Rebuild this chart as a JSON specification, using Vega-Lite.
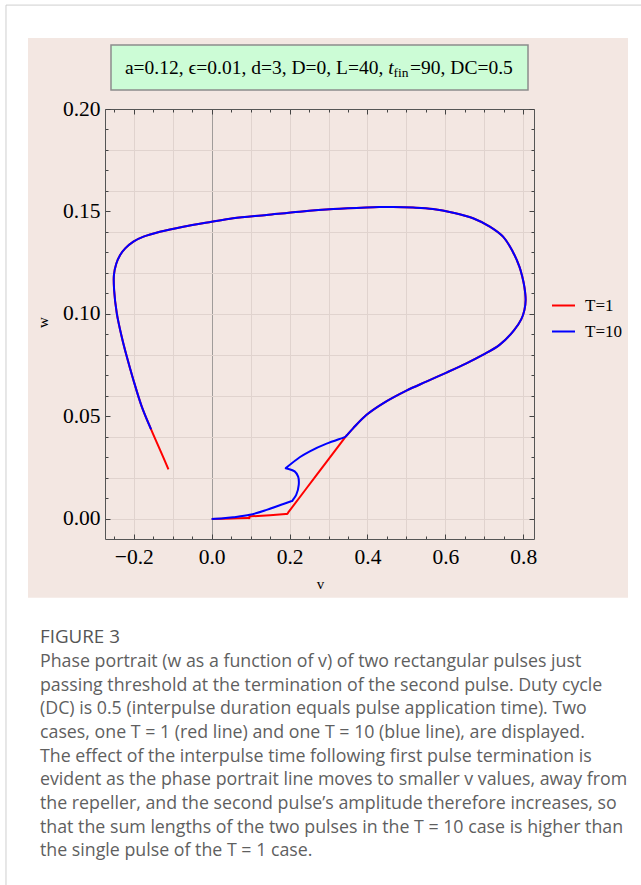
{
  "$schema": "https://vega.github.io/schema/vega-lite/v6.json",
  "width": 429,
  "height": 430,
  "autosize": {"type": "none"},
  "padding": {"left": 105, "top": 109, "right": 107, "bottom": 346},
  "background": "#f3e7e2",
  "config": {"view": {"stroke": null}},
  "datasets": {
    "curves": [
      {"T": "T=1", "i": 0, "v": 0, "w": 0},
      {"T": "T=1", "i": 1, "v": 0.05, "w": 0.0002},
      {"T": "T=1", "i": 2, "v": 0.094, "w": 0.0004},
      {"T": "T=1", "i": 3, "v": 0.097, "w": 0.0004},
      {"T": "T=1", "i": 4, "v": 0.097, "w": 0.0013},
      {"T": "T=1", "i": 5, "v": 0.1, "w": 0.0013},
      {"T": "T=1", "i": 6, "v": 0.19, "w": 0.0024},
      {"T": "T=1", "i": 7, "v": 0.194, "w": 0.0025},
      {"T": "T=1", "i": 8, "v": 0.1975, "w": 0.0034},
      {"T": "T=1", "i": 9, "v": 0.27, "w": 0.0216},
      {"T": "T=1", "i": 10, "v": 0.3401, "w": 0.0392},
      {"T": "T=1", "i": 11, "v": 0.3436, "w": 0.0401},
      {"T": "T=1", "i": 12, "v": 0.347, "w": 0.0408},
      {"T": "T=1", "i": 13, "v": 0.363, "w": 0.0442},
      {"T": "T=1", "i": 14, "v": 0.397, "w": 0.0507},
      {"T": "T=1", "i": 15, "v": 0.44, "w": 0.0564},
      {"T": "T=1", "i": 16, "v": 0.5, "w": 0.0626},
      {"T": "T=1", "i": 17, "v": 0.551, "w": 0.067},
      {"T": "T=1", "i": 18, "v": 0.603, "w": 0.0714},
      {"T": "T=1", "i": 19, "v": 0.654, "w": 0.0759},
      {"T": "T=1", "i": 20, "v": 0.696, "w": 0.08},
      {"T": "T=1", "i": 21, "v": 0.739, "w": 0.0849},
      {"T": "T=1", "i": 22, "v": 0.776, "w": 0.092},
      {"T": "T=1", "i": 23, "v": 0.795, "w": 0.0975},
      {"T": "T=1", "i": 24, "v": 0.803, "w": 0.102},
      {"T": "T=1", "i": 25, "v": 0.806, "w": 0.1068},
      {"T": "T=1", "i": 26, "v": 0.803, "w": 0.113},
      {"T": "T=1", "i": 27, "v": 0.797, "w": 0.1185},
      {"T": "T=1", "i": 28, "v": 0.79, "w": 0.1231},
      {"T": "T=1", "i": 29, "v": 0.773, "w": 0.1304},
      {"T": "T=1", "i": 30, "v": 0.748, "w": 0.1377},
      {"T": "T=1", "i": 31, "v": 0.714, "w": 0.1426},
      {"T": "T=1", "i": 32, "v": 0.671, "w": 0.1467},
      {"T": "T=1", "i": 33, "v": 0.62, "w": 0.1494},
      {"T": "T=1", "i": 34, "v": 0.568, "w": 0.1512},
      {"T": "T=1", "i": 35, "v": 0.517, "w": 0.1519},
      {"T": "T=1", "i": 36, "v": 0.466, "w": 0.1522},
      {"T": "T=1", "i": 37, "v": 0.43, "w": 0.1522},
      {"T": "T=1", "i": 38, "v": 0.397, "w": 0.152},
      {"T": "T=1", "i": 39, "v": 0.312, "w": 0.1512},
      {"T": "T=1", "i": 40, "v": 0.226, "w": 0.1499},
      {"T": "T=1", "i": 41, "v": 0.141, "w": 0.1483},
      {"T": "T=1", "i": 42, "v": 0.055, "w": 0.1467},
      {"T": "T=1", "i": 43, "v": 0, "w": 0.145},
      {"T": "T=1", "i": 44, "v": -0.073, "w": 0.1426},
      {"T": "T=1", "i": 45, "v": -0.133, "w": 0.1401},
      {"T": "T=1", "i": 46, "v": -0.175, "w": 0.1377},
      {"T": "T=1", "i": 47, "v": -0.201, "w": 0.1353},
      {"T": "T=1", "i": 48, "v": -0.222, "w": 0.132},
      {"T": "T=1", "i": 49, "v": -0.235, "w": 0.1288},
      {"T": "T=1", "i": 50, "v": -0.245, "w": 0.1245},
      {"T": "T=1", "i": 51, "v": -0.251, "w": 0.119},
      {"T": "T=1", "i": 52, "v": -0.2505, "w": 0.1117},
      {"T": "T=1", "i": 53, "v": -0.2436, "w": 0.1003},
      {"T": "T=1", "i": 54, "v": -0.231, "w": 0.0889},
      {"T": "T=1", "i": 55, "v": -0.218, "w": 0.0792},
      {"T": "T=1", "i": 56, "v": -0.201, "w": 0.0678},
      {"T": "T=1", "i": 57, "v": -0.1795, "w": 0.0548},
      {"T": "T=1", "i": 58, "v": -0.1556, "w": 0.0437},
      {"T": "T=1", "i": 59, "v": -0.1326, "w": 0.0337},
      {"T": "T=1", "i": 60, "v": -0.111, "w": 0.0242},
      {"T": "T=10", "i": 0, "v": 0, "w": 0},
      {"T": "T=10", "i": 1, "v": 0.03, "w": 0.0003},
      {"T": "T=10", "i": 2, "v": 0.055, "w": 0.0008},
      {"T": "T=10", "i": 3, "v": 0.098, "w": 0.002},
      {"T": "T=10", "i": 4, "v": 0.141, "w": 0.0044},
      {"T": "T=10", "i": 5, "v": 0.184, "w": 0.0073},
      {"T": "T=10", "i": 6, "v": 0.204, "w": 0.0086},
      {"T": "T=10", "i": 7, "v": 0.207, "w": 0.0088},
      {"T": "T=10", "i": 8, "v": 0.2085, "w": 0.0093},
      {"T": "T=10", "i": 9, "v": 0.217, "w": 0.0117},
      {"T": "T=10", "i": 10, "v": 0.2235, "w": 0.0166},
      {"T": "T=10", "i": 11, "v": 0.222, "w": 0.0206},
      {"T": "T=10", "i": 12, "v": 0.213, "w": 0.0232},
      {"T": "T=10", "i": 13, "v": 0.195, "w": 0.0245},
      {"T": "T=10", "i": 14, "v": 0.19, "w": 0.0247},
      {"T": "T=10", "i": 15, "v": 0.1936, "w": 0.0253},
      {"T": "T=10", "i": 16, "v": 0.226, "w": 0.0301},
      {"T": "T=10", "i": 17, "v": 0.252, "w": 0.033},
      {"T": "T=10", "i": 18, "v": 0.295, "w": 0.0367},
      {"T": "T=10", "i": 19, "v": 0.34, "w": 0.0398},
      {"T": "T=10", "i": 20, "v": 0.3436, "w": 0.0401},
      {"T": "T=10", "i": 21, "v": 0.347, "w": 0.0408},
      {"T": "T=10", "i": 22, "v": 0.363, "w": 0.0442},
      {"T": "T=10", "i": 23, "v": 0.397, "w": 0.0507},
      {"T": "T=10", "i": 24, "v": 0.44, "w": 0.0564},
      {"T": "T=10", "i": 25, "v": 0.5, "w": 0.0626},
      {"T": "T=10", "i": 26, "v": 0.551, "w": 0.067},
      {"T": "T=10", "i": 27, "v": 0.603, "w": 0.0714},
      {"T": "T=10", "i": 28, "v": 0.654, "w": 0.0759},
      {"T": "T=10", "i": 29, "v": 0.696, "w": 0.08},
      {"T": "T=10", "i": 30, "v": 0.739, "w": 0.0849},
      {"T": "T=10", "i": 31, "v": 0.776, "w": 0.092},
      {"T": "T=10", "i": 32, "v": 0.795, "w": 0.0975},
      {"T": "T=10", "i": 33, "v": 0.803, "w": 0.102},
      {"T": "T=10", "i": 34, "v": 0.806, "w": 0.1068},
      {"T": "T=10", "i": 35, "v": 0.803, "w": 0.113},
      {"T": "T=10", "i": 36, "v": 0.797, "w": 0.1185},
      {"T": "T=10", "i": 37, "v": 0.79, "w": 0.1231},
      {"T": "T=10", "i": 38, "v": 0.773, "w": 0.1304},
      {"T": "T=10", "i": 39, "v": 0.748, "w": 0.1377},
      {"T": "T=10", "i": 40, "v": 0.714, "w": 0.1426},
      {"T": "T=10", "i": 41, "v": 0.671, "w": 0.1467},
      {"T": "T=10", "i": 42, "v": 0.62, "w": 0.1494},
      {"T": "T=10", "i": 43, "v": 0.568, "w": 0.1512},
      {"T": "T=10", "i": 44, "v": 0.517, "w": 0.1519},
      {"T": "T=10", "i": 45, "v": 0.466, "w": 0.1522},
      {"T": "T=10", "i": 46, "v": 0.43, "w": 0.1522},
      {"T": "T=10", "i": 47, "v": 0.397, "w": 0.152},
      {"T": "T=10", "i": 48, "v": 0.312, "w": 0.1512},
      {"T": "T=10", "i": 49, "v": 0.226, "w": 0.1499},
      {"T": "T=10", "i": 50, "v": 0.141, "w": 0.1483},
      {"T": "T=10", "i": 51, "v": 0.055, "w": 0.1467},
      {"T": "T=10", "i": 52, "v": 0, "w": 0.145},
      {"T": "T=10", "i": 53, "v": -0.073, "w": 0.1426},
      {"T": "T=10", "i": 54, "v": -0.133, "w": 0.1401},
      {"T": "T=10", "i": 55, "v": -0.175, "w": 0.1377},
      {"T": "T=10", "i": 56, "v": -0.201, "w": 0.1353},
      {"T": "T=10", "i": 57, "v": -0.222, "w": 0.132},
      {"T": "T=10", "i": 58, "v": -0.235, "w": 0.1288},
      {"T": "T=10", "i": 59, "v": -0.245, "w": 0.1245},
      {"T": "T=10", "i": 60, "v": -0.251, "w": 0.119},
      {"T": "T=10", "i": 61, "v": -0.2505, "w": 0.1117},
      {"T": "T=10", "i": 62, "v": -0.2436, "w": 0.1003},
      {"T": "T=10", "i": 63, "v": -0.231, "w": 0.0889},
      {"T": "T=10", "i": 64, "v": -0.218, "w": 0.0792},
      {"T": "T=10", "i": 65, "v": -0.201, "w": 0.0678},
      {"T": "T=10", "i": 66, "v": -0.1795, "w": 0.0548},
      {"T": "T=10", "i": 67, "v": -0.1556, "w": 0.0437}
    ]
  },
  "layer": [
    {
      "data": {"values": [{}]},
      "mark": {"type": "rect", "fill": "#ffffff"},
      "encoding": {
        "x": {"datum": -0.8, "type": "quantitative", "axis": null, "scale": {"domain": [-0.2739, 0.8275], "nice": false, "zero": false}},
        "x2": {"datum": -0.4716},
        "y": {"datum": 0.35, "type": "quantitative", "axis": null, "scale": {"domain": [-0.0098, 0.2], "nice": false, "zero": false}},
        "y2": {"datum": -0.3}
      }
    },
    {
      "data": {"values": [{}]},
      "mark": {"type": "rect", "fill": "#ffffff"},
      "encoding": {
        "x": {"datum": 1.0688, "type": "quantitative", "axis": null, "scale": {"domain": [-0.2739, 0.8275], "nice": false, "zero": false}},
        "x2": {"datum": 1.4},
        "y": {"datum": 0.35, "type": "quantitative", "axis": null, "scale": {"domain": [-0.0098, 0.2], "nice": false, "zero": false}},
        "y2": {"datum": -0.3}
      }
    },
    {
      "data": {"values": [{}]},
      "mark": {"type": "rect", "fill": "#ffffff"},
      "encoding": {
        "x": {"datum": -0.8, "type": "quantitative", "axis": null, "scale": {"domain": [-0.2739, 0.8275], "nice": false, "zero": false}},
        "x2": {"datum": 1.4},
        "y": {"datum": 0.35, "type": "quantitative", "axis": null, "scale": {"domain": [-0.0098, 0.2], "nice": false, "zero": false}},
        "y2": {"datum": 0.2346}
      }
    },
    {
      "data": {"values": [{}]},
      "mark": {"type": "rect", "fill": "#ffffff"},
      "encoding": {
        "x": {"datum": -0.8, "type": "quantitative", "axis": null, "scale": {"domain": [-0.2739, 0.8275], "nice": false, "zero": false}},
        "x2": {"datum": 1.4},
        "y": {"datum": -0.0385, "type": "quantitative", "axis": null, "scale": {"domain": [-0.0098, 0.2], "nice": false, "zero": false}},
        "y2": {"datum": -0.3}
      }
    },
    {
      "data": {"values": [{}]},
      "mark": {"type": "rect", "fill": null, "stroke": "#cfcfcf", "strokeWidth": 1},
      "encoding": {
        "x": {"datum": -0.5281, "type": "quantitative", "axis": null, "scale": {"domain": [-0.2739, 0.8275], "nice": false, "zero": false}},
        "x2": {"datum": 1.4},
        "y": {"datum": 0.2507, "type": "quantitative", "axis": null, "scale": {"domain": [-0.0098, 0.2], "nice": false, "zero": false}},
        "y2": {"datum": -0.3}
      }
    },
    {
      "data": {"values": [{}]},
      "mark": {"type": "rect", "fill": "#ccfcd6", "stroke": "#8c8c8c", "strokeWidth": 1.5},
      "encoding": {
        "x": {"datum": -0.2585, "type": "quantitative", "axis": null, "scale": {"domain": [-0.2739, 0.8275], "nice": false, "zero": false}},
        "x2": {"datum": 0.8121},
        "y": {"datum": 0.2312, "type": "quantitative", "axis": null, "scale": {"domain": [-0.0098, 0.2], "nice": false, "zero": false}},
        "y2": {"datum": 0.2093}
      }
    },
    {
      "data": {"values": [{}]},
      "mark": {"type": "text", "align": "right", "baseline": "alphabetic", "font": "Liberation Serif", "fontSize": 19.5, "color": "#000000"},
      "encoding": {
        "x": {"datum": 0.4406, "type": "quantitative", "axis": null, "scale": {"domain": [-0.2739, 0.8275], "nice": false, "zero": false}},
        "y": {"datum": 0.2173, "type": "quantitative", "axis": null, "scale": {"domain": [-0.0098, 0.2], "nice": false, "zero": false}},
        "text": {"value": "a=0.12, ϵ=0.01, d=3, D=0, L=40,"}
      }
    },
    {
      "data": {"values": [{}]},
      "mark": {"type": "text", "align": "left", "baseline": "alphabetic", "font": "Liberation Serif", "fontSize": 19.5, "fontStyle": "italic", "color": "#000000"},
      "encoding": {
        "x": {"datum": 0.4531, "type": "quantitative", "axis": null, "scale": {"domain": [-0.2739, 0.8275], "nice": false, "zero": false}},
        "y": {"datum": 0.2173, "type": "quantitative", "axis": null, "scale": {"domain": [-0.0098, 0.2], "nice": false, "zero": false}},
        "text": {"value": "t"}
      }
    },
    {
      "data": {"values": [{}]},
      "mark": {"type": "text", "align": "left", "baseline": "alphabetic", "font": "Liberation Serif", "fontSize": 13.5, "color": "#000000"},
      "encoding": {
        "x": {"datum": 0.467, "type": "quantitative", "axis": null, "scale": {"domain": [-0.2739, 0.8275], "nice": false, "zero": false}},
        "y": {"datum": 0.2156, "type": "quantitative", "axis": null, "scale": {"domain": [-0.0098, 0.2], "nice": false, "zero": false}},
        "text": {"value": "fin"}
      }
    },
    {
      "data": {"values": [{}]},
      "mark": {"type": "text", "align": "left", "baseline": "alphabetic", "font": "Liberation Serif", "fontSize": 19.5, "color": "#000000"},
      "encoding": {
        "x": {"datum": 0.5093, "type": "quantitative", "axis": null, "scale": {"domain": [-0.2739, 0.8275], "nice": false, "zero": false}},
        "y": {"datum": 0.2173, "type": "quantitative", "axis": null, "scale": {"domain": [-0.0098, 0.2], "nice": false, "zero": false}},
        "text": {"value": "=90, DC=0.5"}
      }
    },
    {
      "data": {"values": [{}]},
      "mark": {"type": "text", "align": "left", "baseline": "alphabetic", "font": "Open Sans", "fontSize": 18.8, "color": "#555555"},
      "encoding": {
        "x": {"datum": -0.4408, "type": "quantitative", "axis": null, "scale": {"domain": [-0.2739, 0.8275], "nice": false, "zero": false}},
        "y": {"datum": -0.0605, "type": "quantitative", "axis": null, "scale": {"domain": [-0.0098, 0.2], "nice": false, "zero": false}},
        "text": {"value": "FIGURE 3"}
      }
    },
    {
      "data": {"values": [{}]},
      "mark": {"type": "text", "align": "left", "baseline": "alphabetic", "font": "Open Sans", "fontSize": 17.8, "lineHeight": 23.7, "color": "#5f5f5f"},
      "encoding": {
        "x": {"datum": -0.4408, "type": "quantitative", "axis": null, "scale": {"domain": [-0.2739, 0.8275], "nice": false, "zero": false}},
        "y": {"datum": -0.0722, "type": "quantitative", "axis": null, "scale": {"domain": [-0.0098, 0.2], "nice": false, "zero": false}},
        "text": {"value": [
          "Phase portrait (w as a function of v) of two rectangular pulses just",
          "passing threshold at the termination of the second pulse. Duty cycle",
          "(DC) is 0.5 (interpulse duration equals pulse application time). Two",
          "cases, one T = 1 (red line) and one T = 10 (blue line), are displayed.",
          "The effect of the interpulse time following first pulse termination is",
          "evident as the phase portrait line moves to smaller v values, away from",
          "the repeller, and the second pulse’s amplitude therefore increases, so",
          "that the sum lengths of the two pulses in the T = 10 case is higher than",
          "the single pulse of the T = 1 case."
        ]}
      }
    },
    {
      "data": {"name": "curves"},
      "transform": [{"filter": "datum.T == 'T=1'"}],
      "mark": {"type": "line", "strokeWidth": 2, "clip": false, "interpolate": "catmull-rom"},
      "encoding": {
        "x": {
          "field": "v", "type": "quantitative",
          "scale": {"domain": [-0.2739, 0.8275], "nice": false, "zero": false},
          "axis": {
            "orient": "bottom",
            "values": [-0.25, -0.2, -0.15, -0.1, -0.05, 0, 0.05, 0.1, 0.15, 0.2, 0.25, 0.3, 0.35, 0.4, 0.45, 0.5, 0.55, 0.6, 0.65, 0.7, 0.75, 0.8],
            "labelExpr": "abs(round(datum.value*20)) % 4 == 0 ? format(datum.value, '.1f') : ''",
            "labelFont": "Liberation Serif", "labelFontSize": 21.5, "labelColor": "#000000",
            "labelFlush": false, "labelOverlap": false, "labelBound": false,
            "labelPadding": 12,
            "tickSize": {"condition": {"test": "abs(round(datum.value*20)) % 4 == 0", "value": -5}, "value": -3},
            "tickColor": "#444444", "tickWidth": 1,
            "domainColor": "#555555", "domainWidth": 1,
            "grid": true,
            "gridColor": {"condition": {"test": "datum.value == 0", "value": "#a09c9a"}, "value": "#e0d3ce"},
            "gridOpacity": {"condition": {"test": "abs(round(datum.value*20)) % 2 == 0", "value": 1}, "value": 0},
            "title": "v", "titleFont": "Liberation Serif", "titleFontSize": 15, "titleFontWeight": "normal", "titleColor": "#000000",
            "titleX": 215, "titleY": 44, "titleBaseline": "middle", "titleAlign": "center"
          }
        },
        "y": {
          "field": "w", "type": "quantitative",
          "scale": {"domain": [-0.0098, 0.2], "nice": false, "zero": false},
          "axis": {
            "orient": "left",
            "values": [-0.01, 0, 0.01, 0.02, 0.03, 0.04, 0.05, 0.06, 0.07, 0.08, 0.09, 0.1, 0.11, 0.12, 0.13, 0.14, 0.15, 0.16, 0.17, 0.18, 0.19, 0.2],
            "labelExpr": "abs(round(datum.value*100)) % 5 == 0 ? format(datum.value, '.2f') : ''",
            "labelFont": "Liberation Serif", "labelFontSize": 21.5, "labelColor": "#000000",
            "labelFlush": false, "labelOverlap": false, "labelBound": false,
            "labelPadding": 10,
            "tickSize": {"condition": {"test": "abs(round(datum.value*100)) % 5 == 0", "value": -5}, "value": -3},
            "tickColor": "#444444", "tickWidth": 1,
            "domainColor": "#555555", "domainWidth": 1,
            "grid": true,
            "gridColor": "#e0d3ce",
            "gridOpacity": {"condition": {"test": "abs(round(datum.value*100)) % 2 == 0", "value": 1}, "value": 0},
            "title": "w", "titleFont": "Liberation Serif", "titleFontSize": 15, "titleFontWeight": "normal", "titleColor": "#000000",
            "titleX": -63, "titleY": 213, "titleBaseline": "middle", "titleAlign": "center", "titleAngle": 270
          }
        },
        "order": {"field": "i", "type": "quantitative"},
        "color": {
          "field": "T", "type": "nominal",
          "scale": {"domain": ["T=1", "T=10"], "range": ["#ff0000", "#0000ff"]},
          "legend": {
            "orient": "none", "legendX": 446, "legendY": 184, "title": null,
            "symbolType": "stroke", "symbolSize": 529, "symbolStrokeWidth": 2,
            "labelFont": "Liberation Serif", "labelFontSize": 17, "labelColor": "#000000",
            "labelOffset": 9, "rowPadding": 5, "padding": 0
          }
        }
      }
    },
    {
      "data": {"name": "curves"},
      "transform": [{"filter": "datum.T == 'T=10'"}],
      "mark": {"type": "line", "strokeWidth": 2, "clip": false, "interpolate": "catmull-rom"},
      "encoding": {
        "x": {
          "field": "v", "type": "quantitative",
          "scale": {"domain": [-0.2739, 0.8275], "nice": false, "zero": false},
          "axis": {
            "orient": "top",
            "values": [-0.25, -0.2, -0.15, -0.1, -0.05, 0, 0.05, 0.1, 0.15, 0.2, 0.25, 0.3, 0.35, 0.4, 0.45, 0.5, 0.55, 0.6, 0.65, 0.7, 0.75, 0.8],
            "labels": false,
            "tickSize": {"condition": {"test": "abs(round(datum.value*20)) % 4 == 0", "value": -5}, "value": -3},
            "tickColor": "#444444", "tickWidth": 1,
            "domainColor": "#555555", "domainWidth": 1,
            "grid": false, "title": null
          }
        },
        "y": {
          "field": "w", "type": "quantitative",
          "scale": {"domain": [-0.0098, 0.2], "nice": false, "zero": false},
          "axis": {
            "orient": "right",
            "values": [-0.01, 0, 0.01, 0.02, 0.03, 0.04, 0.05, 0.06, 0.07, 0.08, 0.09, 0.1, 0.11, 0.12, 0.13, 0.14, 0.15, 0.16, 0.17, 0.18, 0.19, 0.2],
            "labels": false,
            "tickSize": {"condition": {"test": "abs(round(datum.value*100)) % 5 == 0", "value": -5}, "value": -3},
            "tickColor": "#444444", "tickWidth": 1,
            "domainColor": "#555555", "domainWidth": 1,
            "grid": false, "title": null
          }
        },
        "order": {"field": "i", "type": "quantitative"},
        "color": {
          "field": "T", "type": "nominal",
          "scale": {"domain": ["T=1", "T=10"], "range": ["#ff0000", "#0000ff"]},
          "legend": null
        }
      }
    }
  ]
}
